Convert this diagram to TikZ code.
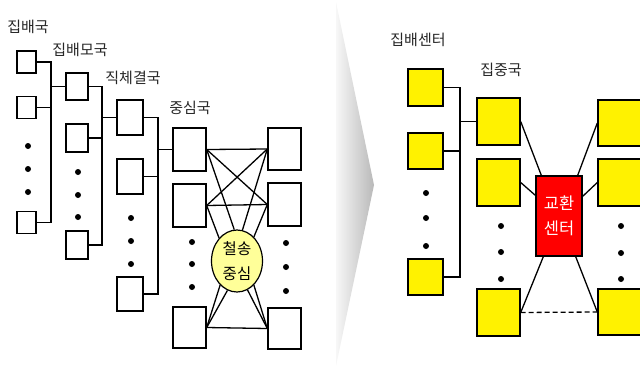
\documentclass[tikz,border=0pt]{standalone}
\usepackage{fontspec}
\setmainfont{Noto Sans CJK KR}
\usetikzlibrary{shapes.geometric}
\tikzset{
  bx/.style={draw=black, line width=1.4pt, fill=white, inner sep=0pt, minimum width=#1},
  ybx/.style={draw=black, line width=1.4pt, fill=yellow, inner sep=0pt},
  conn/.style={line width=1.7pt, draw=black},
  mesh/.style={line width=1.3pt, draw=black},
  dot/.style={circle, fill=black, inner sep=0pt, minimum size=6pt},
  lbl/.style={font=\fontsize{15}{17}\selectfont, inner sep=0pt, text=black!85}
}
\begin{document}
\begin{tikzpicture}[x=1pt,y=-1pt]
\useasboundingbox (0,0) rectangle (640,368);
\clip (0,0) rectangle (640,368);
% separator chevron
\shade[left color=gray!6, right color=gray!55] (336,2) -- (374,185) -- (336,366) -- cycle;

% ---------- left part ----------
\node[lbl] (t1) at (28,27) {집배국};
\node[lbl] (t2) at (80,50) {집배모국};
\node[lbl] (t3) at (133,78) {직체결국};
\node[lbl] (t4) at (190,108) {중심국};

% level 1
\node[bx=19pt, minimum height=22pt] (a1) at (26.5,62) {};
\node[bx=19pt, minimum height=22pt] (a2) at (26.5,107.5) {};
\node[bx=19pt, minimum height=22pt] (a3) at (26.5,222.5) {};
\node[dot] (ad1) at (28,146) {};
\node[dot] (ad2) at (28,169) {};
\node[dot] (ad3) at (28,192) {};
% level 2
\node[bx=22pt, minimum height=27pt] (b1) at (77,86.5) {};
\node[bx=22pt, minimum height=28pt] (b2) at (77,138) {};
\node[bx=22pt, minimum height=28pt] (b3) at (77,245) {};
\node[dot] (bd1) at (78,172) {};
\node[dot] (bd2) at (78,195) {};
\node[dot] (bd3) at (78,217) {};
% level 3
\node[bx=26pt, minimum height=35pt] (c1) at (130,117.5) {};
\node[bx=26pt, minimum height=35pt] (c2) at (130,176.5) {};
\node[bx=26pt, minimum height=34pt] (c3) at (130,294) {};
\node[dot] (cd1) at (131,218) {};
\node[dot] (cd2) at (131,241) {};
\node[dot] (cd3) at (131,264) {};
% level 4 left
\node[bx=33pt, minimum height=43pt] (d1) at (189.5,149.5) {};
\node[bx=33pt, minimum height=43pt] (d2) at (189.5,205.5) {};
\node[bx=33pt, minimum height=41pt] (d3) at (189.5,327.5) {};
\node[dot] (dd1) at (192,242) {};
\node[dot] (dd2) at (192,264) {};
\node[dot] (dd3) at (192,287) {};
% level 4 right
\node[bx=33pt, minimum height=42pt] (e1) at (284.5,149) {};
\node[bx=33pt, minimum height=43pt] (e2) at (284.5,204.5) {};
\node[bx=33pt, minimum height=41pt] (e3) at (284.5,328.5) {};
\node[dot] (ed1) at (286,243) {};
\node[dot] (ed2) at (286,267) {};
\node[dot] (ed3) at (286,291) {};

% buses
\coordinate (bus1) at (51,0);
\coordinate (bus2) at (102,0);
\coordinate (bus3) at (158,0);
\draw[conn] (a1.east) -- (a1.east -| bus1) -- (a3.east -| bus1) -- (a3.east);
\draw[conn] (a2.east) -- (a2.east -| bus1);
\draw[conn] (b1.west) -- (b1.west -| bus1);
\draw[conn] (b1.east) -- (b1.east -| bus2) -- (b3.east -| bus2) -- (b3.east);
\draw[conn] (b2.east) -- (b2.east -| bus2);
\draw[conn] (c1.west) -- (c1.west -| bus2);
\draw[conn] (c1.east) -- (c1.east -| bus3) -- (c3.east -| bus3) -- (c3.east);
\draw[conn] (c2.east) -- (c2.east -| bus3);
\draw[conn] (d1.west) -- (d1.west -| bus3);

% mesh
\draw[mesh] (d1.east) -- (e1.west);
\draw[mesh] (d2.east) -- (e2.west);
\draw[mesh] (d1.east) -- (e2.west);
\draw[mesh] (d2.east) -- (e1.west);
\draw[mesh] (d3.east) -- (e3.west);

% center ellipse
\node[ellipse, draw=black, line width=1.2pt, fill={rgb,255:red,255;green,255;blue,153}, minimum width=51pt, minimum height=62pt, inner sep=0pt, align=center, font=\fontsize{15.5}{25}\selectfont] (ell) at (237,261) {철송\\중심};

\draw[mesh] (d1.east) -- (ell.95);
\draw[mesh] (e1.west) -- (ell.80);
\draw[mesh] (d2.east) -- (ell.128);
\draw[mesh] (e2.west) -- (ell.55);
\draw[mesh] (d3.east) -- (ell.235);
\draw[mesh] (d3.east) -- (ell.252);
\draw[mesh] (e3.west) -- (ell.290);
\draw[mesh] (e3.west) -- (ell.305);

% ---------- right part ----------
\node[lbl] (t5) at (418,40) {집배센터};
\node[lbl] (t6) at (501,70) {집중국};

\node[ybx, minimum width=35pt, minimum height=37pt] (f1) at (425.5,87.5) {};
\node[ybx, minimum width=35pt, minimum height=36pt] (f2) at (425.5,151) {};
\node[ybx, minimum width=35pt, minimum height=36pt] (f3) at (425.5,277) {};
\node[dot] (fd1) at (426,193) {};
\node[dot] (fd2) at (426,218) {};
\node[dot] (fd3) at (426,246) {};

\node[ybx, minimum width=43pt, minimum height=47pt] (g1) at (498.5,121.5) {};
\node[ybx, minimum width=43pt, minimum height=47pt] (g2) at (498.5,182.5) {};
\node[ybx, minimum width=43pt, minimum height=47pt] (g3) at (498.5,312.5) {};
\node[dot] (gd1) at (501,226) {};
\node[dot] (gd2) at (501,252) {};
\node[dot] (gd3) at (501,279) {};

\node[ybx, minimum width=45pt, minimum height=46pt] (h1) at (620.5,123) {};
\node[ybx, minimum width=45pt, minimum height=47pt] (h2) at (620.5,182.5) {};
\node[ybx, minimum width=45pt, minimum height=46pt] (h3) at (620.5,312) {};
\node[dot] (hd1) at (621,226) {};
\node[dot] (hd2) at (621,253) {};
\node[dot] (hd3) at (621,279) {};

\coordinate (bus4) at (460,0);
\draw[conn] (f1.east) -- (f1.east -| bus4) -- (f3.east -| bus4) -- (f3.east);
\draw[conn] (f2.east) -- (f2.east -| bus4);
\draw[conn] (g1.west) -- (g1.west -| bus4);

\node[draw=black, line width=1.4pt, fill=red, minimum width=46pt, minimum height=80pt, inner sep=0pt, align=center, text=white, font=\fontsize{16.5}{25}\selectfont] (red) at (559,216) {교환\\센터};

\draw[mesh] (g1.east) -- ([xshift=6pt]red.north west);
\draw[mesh] (h1.west) -- ([xshift=-5pt]red.north east);
\draw[mesh] (g2.east) -- ([yshift=-20pt]red.north west);
\draw[mesh] (h2.west) -- ([yshift=-21pt]red.north east);
\draw[mesh] (g3.east) -- ([xshift=8pt]red.south west);
\draw[mesh] (h3.west) -- ([xshift=-7pt]red.south east);
\draw[mesh, dash pattern=on 5pt off 3pt] (g3.east) -- (h3.west);
\end{tikzpicture}
\end{document}
